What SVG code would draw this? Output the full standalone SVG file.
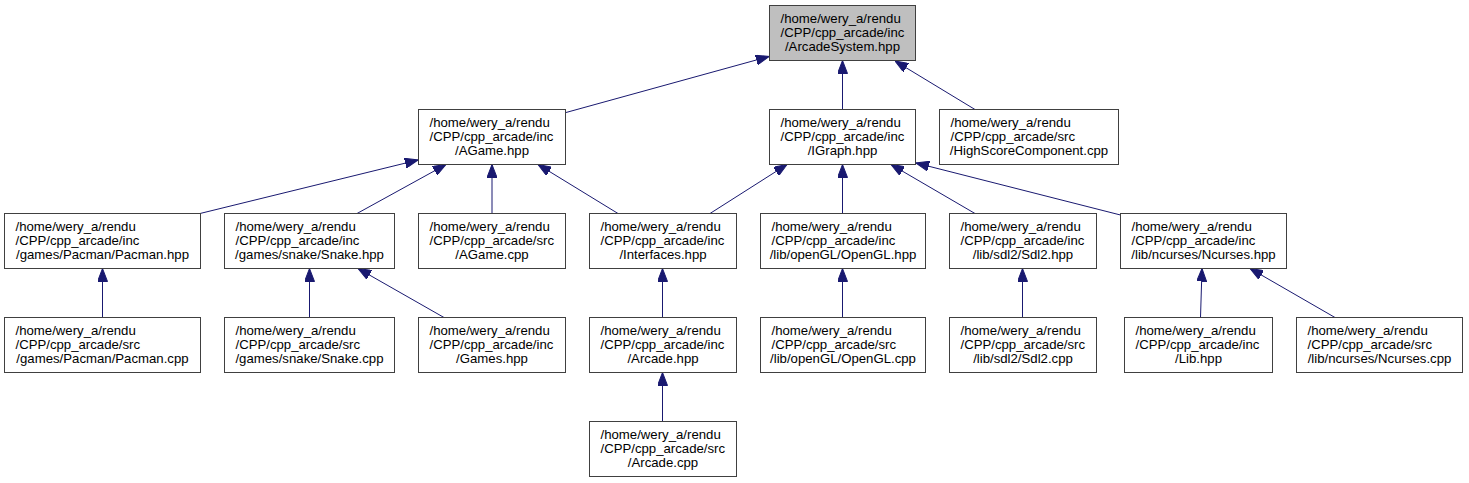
<svg xmlns="http://www.w3.org/2000/svg" width="1469" height="483" viewBox="0 0 1469 483">
<defs>
<style>
.box{fill:#ffffff;stroke:#404040;stroke-width:1}
.root{fill:#bfbfbf;stroke:#404040;stroke-width:1}
text{font-family:"Liberation Sans",Arial,Helvetica,sans-serif;font-size:13.2px;fill:#000000}
.c{text-anchor:middle}
.edge{fill:none;stroke:#191970;stroke-width:1;marker-end:url(#arr)}
</style>
<marker id="arr" markerUnits="userSpaceOnUse" viewBox="0 0 13 10" refX="13" refY="5" markerWidth="13" markerHeight="10" orient="auto">
<path d="M0,0 L13,5 L0,10 Z" fill="#191970" stroke="#191970" stroke-width="1"/>
</marker>
</defs>
<rect x="0" y="0" width="1469" height="483" fill="#ffffff"/>

<g id="connectors">
<path class="edge" d="M566,112.5 L769,56.5"/>
<path class="edge" d="M842.5,109.5 L842.5,60.5"/>
<path class="edge" d="M975,109.5 L895,61"/>
<path class="edge" d="M200,213.5 L418,160"/>
<path class="edge" d="M357,213.5 L446,164.5"/>
<path class="edge" d="M492,213.5 L492,164.5"/>
<path class="edge" d="M618,213.5 L538,164.5"/>
<path class="edge" d="M710,213.5 L787,164.5"/>
<path class="edge" d="M842.5,213.5 L842.5,164.5"/>
<path class="edge" d="M975,213.5 L891,164.5"/>
<path class="edge" d="M1120.5,215 L916,163"/>
<path class="edge" d="M102.5,317.5 L102.5,268.5"/>
<path class="edge" d="M309.5,317.5 L309.5,268.5"/>
<path class="edge" d="M444,317.5 L358,268.5"/>
<path class="edge" d="M662.5,317.5 L662.5,268.5"/>
<path class="edge" d="M842.5,317.5 L842.5,268.5"/>
<path class="edge" d="M1022.5,317.5 L1022.5,268.5"/>
<path class="edge" d="M1200.5,317.5 L1202,268.5"/>
<path class="edge" d="M1335,317.5 L1250,268.5"/>
<path class="edge" d="M662.5,421.5 L662.5,372.5"/>
</g>

<g id="n_arcadesystem_hpp">
<rect class="root" x="769.5" y="5.5" width="146" height="55"/>
<text x="780.5" y="22.5">/home/wery_a/rendu</text>
<text x="780.5" y="36.8">/CPP/cpp_arcade/inc</text>
<text class="c" x="842.5" y="51.1">/ArcadeSystem.hpp</text>
</g>

<g id="n_agame_hpp">
<rect class="box" x="418.5" y="109.5" width="147" height="55"/>
<text x="429.5" y="126.5">/home/wery_a/rendu</text>
<text x="429.5" y="140.8">/CPP/cpp_arcade/inc</text>
<text class="c" x="492" y="155.1">/AGame.hpp</text>
</g>

<g id="n_igraph_hpp">
<rect class="box" x="769.5" y="109.5" width="146" height="55"/>
<text x="780.5" y="126.5">/home/wery_a/rendu</text>
<text x="780.5" y="140.8">/CPP/cpp_arcade/inc</text>
<text class="c" x="842.5" y="155.1">/IGraph.hpp</text>
</g>

<g id="n_highscorecomponent_cpp">
<rect class="box" x="939.5" y="109.5" width="179" height="55"/>
<text x="950.5" y="126.5">/home/wery_a/rendu</text>
<text x="950.5" y="140.8">/CPP/cpp_arcade/src</text>
<text class="c" x="1029" y="155.1">/HighScoreComponent.cpp</text>
</g>

<g id="n_pacman_hpp">
<rect class="box" x="4.5" y="213.5" width="196" height="55"/>
<text x="15.5" y="230.5">/home/wery_a/rendu</text>
<text x="15.5" y="244.8">/CPP/cpp_arcade/inc</text>
<text class="c" x="102.5" y="259.1">/games/Pacman/Pacman.hpp</text>
</g>

<g id="n_snake_hpp">
<rect class="box" x="224.5" y="213.5" width="170" height="55"/>
<text x="235.5" y="230.5">/home/wery_a/rendu</text>
<text x="235.5" y="244.8">/CPP/cpp_arcade/inc</text>
<text class="c" x="309.5" y="259.1">/games/snake/Snake.hpp</text>
</g>

<g id="n_agame_cpp">
<rect class="box" x="418.5" y="213.5" width="147" height="55"/>
<text x="429.5" y="230.5">/home/wery_a/rendu</text>
<text x="429.5" y="244.8">/CPP/cpp_arcade/src</text>
<text class="c" x="492" y="259.1">/AGame.cpp</text>
</g>

<g id="n_interfaces_hpp">
<rect class="box" x="589.5" y="213.5" width="147" height="55"/>
<text x="600.5" y="230.5">/home/wery_a/rendu</text>
<text x="600.5" y="244.8">/CPP/cpp_arcade/inc</text>
<text class="c" x="663" y="259.1">/Interfaces.hpp</text>
</g>

<g id="n_opengl_hpp">
<rect class="box" x="760.5" y="213.5" width="165" height="55"/>
<text x="771.5" y="230.5">/home/wery_a/rendu</text>
<text x="771.5" y="244.8">/CPP/cpp_arcade/inc</text>
<text class="c" x="843" y="259.1">/lib/openGL/OpenGL.hpp</text>
</g>

<g id="n_sdl2_hpp">
<rect class="box" x="949.5" y="213.5" width="147" height="55"/>
<text x="960.5" y="230.5">/home/wery_a/rendu</text>
<text x="960.5" y="244.8">/CPP/cpp_arcade/inc</text>
<text class="c" x="1023" y="259.1">/lib/sdl2/Sdl2.hpp</text>
</g>

<g id="n_ncurses_hpp">
<rect class="box" x="1120.5" y="213.5" width="166" height="55"/>
<text x="1131.5" y="230.5">/home/wery_a/rendu</text>
<text x="1131.5" y="244.8">/CPP/cpp_arcade/inc</text>
<text class="c" x="1203.5" y="259.1">/lib/ncurses/Ncurses.hpp</text>
</g>

<g id="n_pacman_cpp">
<rect class="box" x="4.5" y="317.5" width="196" height="55"/>
<text x="15.5" y="334.5">/home/wery_a/rendu</text>
<text x="15.5" y="348.8">/CPP/cpp_arcade/src</text>
<text class="c" x="102.5" y="363.1">/games/Pacman/Pacman.cpp</text>
</g>

<g id="n_snake_cpp">
<rect class="box" x="224.5" y="317.5" width="170" height="55"/>
<text x="235.5" y="334.5">/home/wery_a/rendu</text>
<text x="235.5" y="348.8">/CPP/cpp_arcade/src</text>
<text class="c" x="309.5" y="363.1">/games/snake/Snake.cpp</text>
</g>

<g id="n_games_hpp">
<rect class="box" x="418.5" y="317.5" width="147" height="55"/>
<text x="429.5" y="334.5">/home/wery_a/rendu</text>
<text x="429.5" y="348.8">/CPP/cpp_arcade/inc</text>
<text class="c" x="492" y="363.1">/Games.hpp</text>
</g>

<g id="n_arcade_hpp">
<rect class="box" x="589.5" y="317.5" width="147" height="55"/>
<text x="600.5" y="334.5">/home/wery_a/rendu</text>
<text x="600.5" y="348.8">/CPP/cpp_arcade/inc</text>
<text class="c" x="663" y="363.1">/Arcade.hpp</text>
</g>

<g id="n_opengl_cpp">
<rect class="box" x="760.5" y="317.5" width="165" height="55"/>
<text x="771.5" y="334.5">/home/wery_a/rendu</text>
<text x="771.5" y="348.8">/CPP/cpp_arcade/src</text>
<text class="c" x="843" y="363.1">/lib/openGL/OpenGL.cpp</text>
</g>

<g id="n_sdl2_cpp">
<rect class="box" x="949.5" y="317.5" width="147" height="55"/>
<text x="960.5" y="334.5">/home/wery_a/rendu</text>
<text x="960.5" y="348.8">/CPP/cpp_arcade/src</text>
<text class="c" x="1023" y="363.1">/lib/sdl2/Sdl2.cpp</text>
</g>

<g id="n_lib_hpp">
<rect class="box" x="1124.5" y="317.5" width="148" height="55"/>
<text x="1135.5" y="334.5">/home/wery_a/rendu</text>
<text x="1135.5" y="348.8">/CPP/cpp_arcade/inc</text>
<text class="c" x="1198.5" y="363.1">/Lib.hpp</text>
</g>

<g id="n_ncurses_cpp">
<rect class="box" x="1296.5" y="317.5" width="166" height="55"/>
<text x="1307.5" y="334.5">/home/wery_a/rendu</text>
<text x="1307.5" y="348.8">/CPP/cpp_arcade/src</text>
<text class="c" x="1379.5" y="363.1">/lib/ncurses/Ncurses.cpp</text>
</g>

<g id="n_arcade_cpp">
<rect class="box" x="589.5" y="421.5" width="147" height="55"/>
<text x="600.5" y="438.5">/home/wery_a/rendu</text>
<text x="600.5" y="452.8">/CPP/cpp_arcade/src</text>
<text class="c" x="663" y="467.1">/Arcade.cpp</text>
</g>
</svg>
